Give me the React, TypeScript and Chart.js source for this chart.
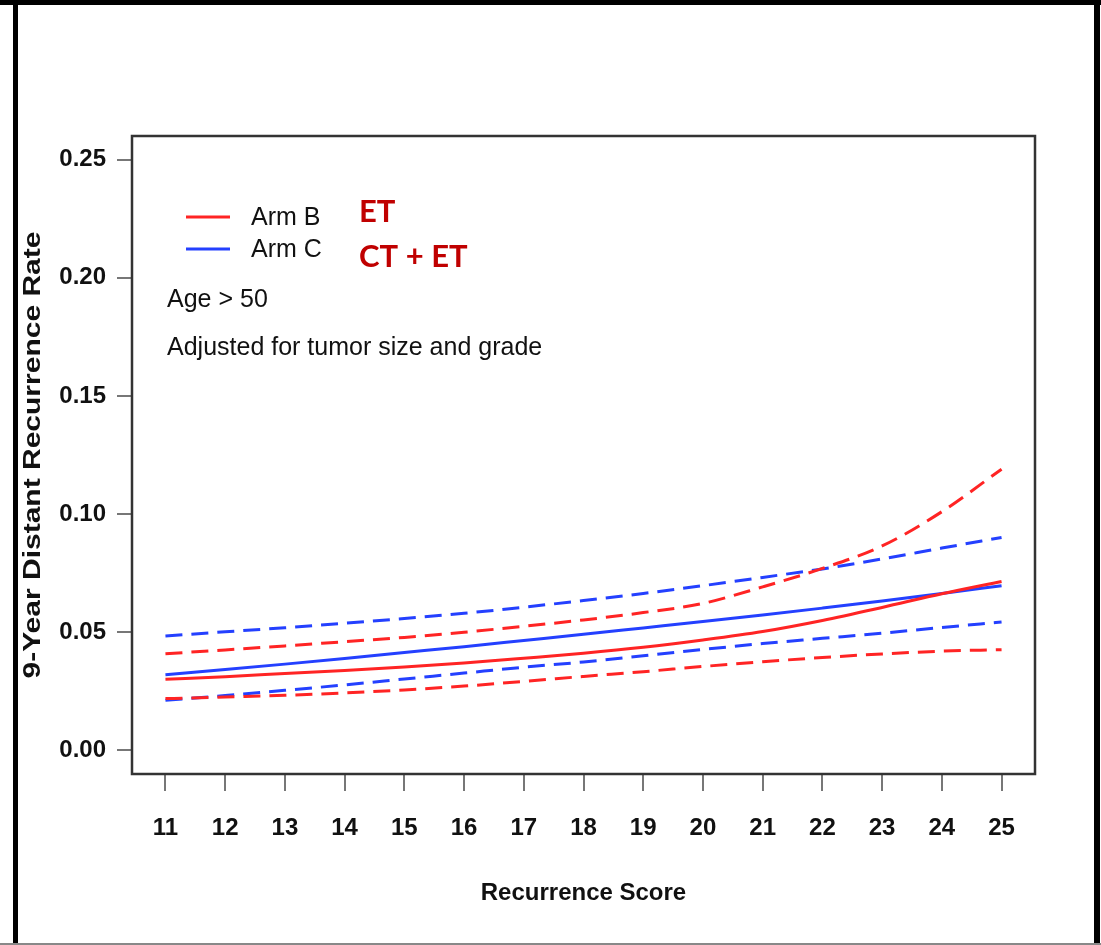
import React, { useEffect, useRef } from "react";
import { Chart, registerables } from "chart.js";

Chart.register(...registerables);

// ---- data ----
const recurrenceScores = [11, 12, 13, 14, 15, 16, 17, 18, 19, 20, 21, 22, 23, 24, 25];
const armB = [0.0301, 0.0312, 0.0325, 0.0338, 0.0353, 0.037, 0.039, 0.0411, 0.0436, 0.0467, 0.0503, 0.055, 0.0605, 0.0663, 0.0715];
const armBUpper = [0.0409, 0.0425, 0.0442, 0.046, 0.0478, 0.05, 0.0525, 0.0552, 0.0583, 0.0622, 0.0692, 0.077, 0.0865, 0.101, 0.119];
const armBLower = [0.0219, 0.0226, 0.0233, 0.0243, 0.0256, 0.0272, 0.0292, 0.0313, 0.0333, 0.0355, 0.0375, 0.0393, 0.0408, 0.042, 0.0426];
const armC = [0.032, 0.0342, 0.0365, 0.0389, 0.0414, 0.0439, 0.0465, 0.0491, 0.0518, 0.0545, 0.0573, 0.0602, 0.0632, 0.0664, 0.0697];
const armCUpper = [0.0484, 0.0502, 0.0519, 0.0538, 0.0558, 0.058, 0.0606, 0.0634, 0.0664, 0.0697, 0.0732, 0.0768, 0.081, 0.0856, 0.0901];
const armCLower = [0.0212, 0.0232, 0.0254, 0.0277, 0.0302, 0.0327, 0.0352, 0.0374, 0.04, 0.0427, 0.0452, 0.0474, 0.0496, 0.052, 0.0543];

const yTickValues = [0, 0.05, 0.1, 0.15, 0.2, 0.25];
const xTickValues = [11, 12, 13, 14, 15, 16, 17, 18, 19, 20, 21, 22, 23, 24, 25];

const legendLabels = ["Arm B", "Arm C"];
const treatmentLabels = ["ET", "CT + ET"];
const noteLabels = ["Age > 50", "Adjusted for tumor size and grade"];
const xTitle = "Recurrence Score";
const yTitle = "9-Year Distant Recurrence Rate";

const RED = "#ff2424";
const BLUE = "#2440ff";
const DASH = [17, 9];

const toPoints = (vals: number[]) => recurrenceScores.map((x, i) => ({ x, y: vals[i] }));

const FONT = '"Liberation Sans", Arial, Helvetica, sans-serif';

const annotPlugin = {
  id: "annot",
  afterDraw(chart: any) {
    const { ctx, chartArea: a } = chart;
    ctx.save();
    // plot box
    ctx.strokeStyle = "#333";
    ctx.lineWidth = 2.5;
    ctx.setLineDash([]);
    ctx.strokeRect(a.left, a.top, a.right - a.left, a.bottom - a.top);

    // y-axis title (stretched along its length like the reference)
    ctx.save();
    ctx.translate(33, (a.top + a.bottom) / 2);
    ctx.rotate(-Math.PI / 2);
    ctx.scale(1.25, 1);
    ctx.font = `bold 24px ${FONT}`;
    ctx.fillStyle = "#111";
    ctx.textAlign = "center";
    ctx.textBaseline = "middle";
    ctx.fillText(yTitle, 0, 0);
    ctx.restore();

    // legend
    const legendColors = [RED, BLUE];
    const legendY = [217, 249];
    ctx.lineWidth = 3;
    ctx.font = `25px ${FONT}`;
    ctx.textBaseline = "middle";
    ctx.textAlign = "left";
    legendLabels.forEach((lab, i) => {
      ctx.strokeStyle = legendColors[i];
      ctx.beginPath();
      ctx.moveTo(186, legendY[i]);
      ctx.lineTo(230, legendY[i]);
      ctx.stroke();
      ctx.fillStyle = "#111";
      ctx.fillText(lab, 251, legendY[i] + 1);
    });

    // notes
    const noteY = [300, 348];
    noteLabels.forEach((t, i) => {
      ctx.fillStyle = "#111";
      ctx.fillText(t, 167, noteY[i]);
    });

    // treatment labels
    ctx.font = `bold 31px Lato, "Open Sans", ${FONT}`;
    ctx.fillStyle = "#c00000";
    const trY = [212, 257];
    treatmentLabels.forEach((t, i) => {
      ctx.fillText(t, 359, trY[i]);
    });
    ctx.restore();
  },
};

export default function App() {
  const ref = useRef<HTMLCanvasElement>(null);

  useEffect(() => {
    const mk = (label: string, vals: number[], color: string, dashed: boolean) => ({
      label,
      data: toPoints(vals),
      borderColor: color,
      backgroundColor: color,
      borderWidth: 3,
      borderDash: dashed ? DASH : [],
      pointRadius: 0,
      fill: false,
      cubicInterpolationMode: "monotone" as const,
    });

    const chart = new Chart(ref.current!, {
      type: "line",
      data: {
        datasets: [
          mk("Arm B upper", armBUpper, RED, true),
          mk("Arm B lower", armBLower, RED, true),
          mk("Arm C upper", armCUpper, BLUE, true),
          mk("Arm C lower", armCLower, BLUE, true),
          mk("Arm B", armB, RED, false),
          mk("Arm C", armC, BLUE, false),
        ],
      },
      options: {
        animation: false,
        responsive: false,
        maintainAspectRatio: false,
        devicePixelRatio: 1,
        layout: { padding: { left: 0, top: 136, right: 66, bottom: 0 } },
        plugins: {
          legend: { display: false },
          tooltip: { enabled: false },
        },
        scales: {
          x: {
            type: "linear",
            min: 10.44,
            max: 25.56,
            afterFit: (s: any) => {
              s.height = 171;
            },
            afterBuildTicks: (axis: any) => {
              axis.ticks = xTickValues.map((v) => ({ value: v }));
            },
            border: { display: false },
            grid: {
              display: true,
              drawOnChartArea: false,
              drawTicks: true,
              tickLength: 17,
              color: "#777",
              lineWidth: 2,
            },
            ticks: {
              autoSkip: false,
              maxRotation: 0,
              padding: 23,
              color: "#111",
              font: { family: FONT, size: 24, weight: "bold" },
              callback: (v: any) => String(v),
            },
            title: {
              display: true,
              text: xTitle,
              color: "#111",
              font: { family: FONT, size: 24, weight: "bold" },
              padding: { top: 0, bottom: 37 },
            },
          },
          y: {
            type: "linear",
            min: -0.01,
            max: 0.26,
            afterFit: (s: any) => {
              s.width = 132;
            },
            afterBuildTicks: (axis: any) => {
              axis.ticks = yTickValues.map((v) => ({ value: v }));
            },
            border: { display: false },
            grid: {
              display: true,
              drawOnChartArea: false,
              drawTicks: true,
              tickLength: 15,
              color: "#777",
              lineWidth: 2,
            },
            ticks: {
              autoSkip: false,
              padding: 11,
              color: "#111",
              font: { family: FONT, size: 24, weight: "bold" },
              callback: (v: any) => Number(v).toFixed(2),
            },
            title: { display: false },
          },
        },
      },
      plugins: [annotPlugin],
    });
    return () => chart.destroy();
  }, []);

  return (
    <div
      style={{
        position: "absolute",
        left: 0,
        top: 0,
        width: 1101,
        height: 945,
        background: "#fff",
        overflow: "hidden",
      }}
    >
      <canvas
        ref={ref}
        width={1101}
        height={945}
        style={{ position: "absolute", left: 0, top: 0, width: 1101, height: 945 }}
      />
      <div style={{ position: "absolute", left: 0, top: 0, width: 1101, height: 5, background: "#000" }} />
      <div style={{ position: "absolute", left: 13, top: 0, width: 5, height: 945, background: "#000" }} />
      <div style={{ position: "absolute", left: 1094, top: 0, width: 6, height: 945, background: "#000" }} />
      <div style={{ position: "absolute", left: 0, top: 943, width: 1101, height: 2, background: "#888" }} />
    </div>
  );
}
